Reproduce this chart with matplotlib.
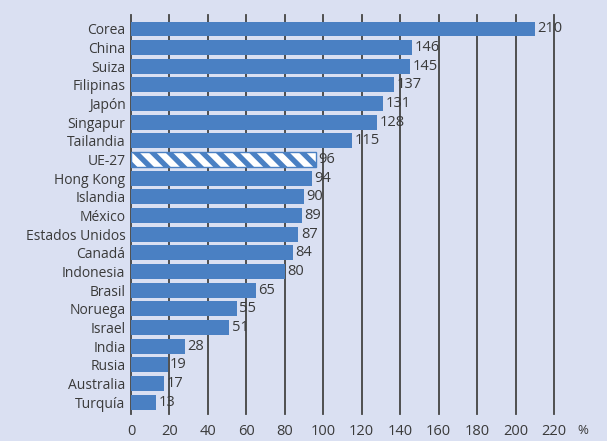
import matplotlib.pyplot as plt
import numpy as np

plt.rcParams['font.family'] = ['Open Sans', 'DejaVu Sans']

# Datos
paises = ['Corea', 'China', 'Suiza', 'Filipinas', 'Japón', 'Singapur', 'Tailandia',
          'UE-27', 'Hong Kong', 'Islandia', 'México', 'Estados Unidos', 'Canadá',
          'Indonesia', 'Brasil', 'Noruega', 'Israel', 'India', 'Rusia', 'Australia', 'Turquía']
valores = [210, 146, 145, 137, 131, 128, 115, 96, 94, 90, 89, 87, 84, 80, 65, 55, 51, 28, 19, 17, 13]
ticks = [0, 20, 40, 60, 80, 100, 120, 140, 160, 180, 200, 220]

fondo = '#dae0f2'
azul = '#4a80c3'
texto = '#3a3a3a'

plt.rcParams['hatch.color'] = azul
plt.rcParams['hatch.linewidth'] = 3.8

fig = plt.figure(figsize=(6.07, 4.41), dpi=100, facecolor=fondo)
ax = fig.add_axes([131/607, 1 - 414/441, (554 - 131)/607, (414 - 15)/441])
ax.set_facecolor(fondo)

y = np.arange(len(paises))
for i, (p, v) in enumerate(zip(paises, valores)):
    if p == 'UE-27':
        # barra de la UE con rayado diagonal
        ax.barh(i, v, height=0.8, color='white', edgecolor=azul, hatch='\\\\',
                linewidth=1.0, zorder=3)
    else:
        ax.barh(i, v, height=0.8, color=azul, zorder=3)
    ax.text(v + 1.3, i, str(v), va='center', ha='left', fontsize=10.5, color=texto, zorder=4)

ax.set_xlim(0, 220)
ax.set_ylim(20.64, -0.75)
ax.set_yticks(y)
ax.set_yticklabels(paises, fontsize=10, color=texto)
ax.set_xticks(ticks)
ax.set_xticklabels([str(t) for t in ticks], fontsize=10.5, color=texto)
ax.tick_params(length=0, pad=4)
ax.tick_params(axis='x', pad=7)
for s in ax.spines.values():
    s.set_visible(False)
for t in ticks:
    ax.axvline(t, color='#444444', linewidth=1.3, zorder=1, clip_on=False)
fig.text(583/607, 1 - 431/441, '%', fontsize=9.5, color=texto, ha='center', va='center')

fig.savefig('out.png', dpi=100, facecolor=fondo)
